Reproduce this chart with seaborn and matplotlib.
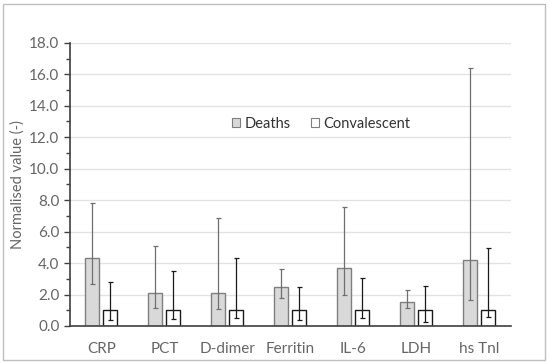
import numpy as np
import pandas as pd
import matplotlib.pyplot as plt
import seaborn as sns
from matplotlib.ticker import MultipleLocator, FormatStrFormatter

# values
markers = ['CRP', 'PCT', 'D-dimer', 'Ferritin', 'IL-6', 'LDH', 'hs Tnl']
deaths = [4.3, 2.1, 2.1, 2.5, 3.7, 1.55, 4.2]
deaths_low = [2.65, 1.15, 1.05, 1.75, 1.95, 1.15, 1.65]
deaths_high = [7.8, 5.1, 6.85, 3.6, 7.55, 2.3, 16.4]
conv = [1.0, 1.0, 1.0, 1.0, 1.0, 1.0, 1.0]
conv_low = [0.4, 0.45, 0.5, 0.35, 0.5, 0.25, 0.6]
conv_high = [2.8, 3.5, 4.3, 2.45, 3.05, 2.55, 4.95]

df = pd.DataFrame({
    'marker': markers * 2,
    'value': deaths + conv,
    'group': ['Deaths'] * len(markers) + ['Convalescent'] * len(markers),
})

sns.set_style('white')
plt.rcParams['font.family'] = ['Lato', 'DejaVu Sans']
text_col = '#666666'

fig = plt.figure(figsize=(5.5, 3.63), dpi=100)
ax = fig.add_axes([0.127, 0.102, 0.802, 0.78])

sns.barplot(
    data=df, x='marker', y='value', hue='group',
    palette={'Deaths': '#d9d9d9', 'Convalescent': 'white'},
    width=0.57, gap=0.22, edgecolor='#7f7f7f', linewidth=1.0,
    ax=ax, legend=True,
)
# conv bars have black edges
for p in ax.patches[len(markers):2 * len(markers)]:
    p.set_edgecolor('#1a1a1a')

x = np.arange(len(markers))
off = 0.1425
d = np.array(deaths)
c = np.array(conv)
ax.errorbar(x - off, d, yerr=[d - np.array(deaths_low), np.array(deaths_high) - d],
            fmt='none', ecolor='#6f6f6f', elinewidth=0.9, capsize=1.8, capthick=0.9)
ax.errorbar(x + off, c, yerr=[c - np.array(conv_low), np.array(conv_high) - c],
            fmt='none', ecolor='#1a1a1a', elinewidth=0.9, capsize=1.8, capthick=0.9)

ax.set_ylim(0, 18)
ax.set_xlim(-0.5, len(markers) - 0.5)
ax.yaxis.set_major_locator(MultipleLocator(2))
ax.yaxis.set_minor_locator(MultipleLocator(1))
ax.yaxis.set_major_formatter(FormatStrFormatter('%.1f'))
ax.grid(axis='y', color='#e3e3e3', linewidth=1.0)
ax.set_axisbelow(True)

for s in ['top', 'right']:
    ax.spines[s].set_visible(False)
ax.spines['left'].set_color('#404040')
ax.spines['bottom'].set_color('#404040')
ax.spines['left'].set_linewidth(1.2)
ax.spines['bottom'].set_linewidth(1.2)

ax.tick_params(axis='y', which='major', left=True, length=4, width=1, color='#404040',
               labelsize=11, labelcolor=text_col, direction='out')
ax.tick_params(axis='y', which='minor', left=True, length=3, width=1, color='#404040',
               direction='out')
ax.tick_params(axis='x', bottom=False, labelsize=11, labelcolor=text_col, pad=8)

ax.set_xlabel('')
ax.set_ylabel('Normalised value (-)', fontsize=10.5, color=text_col, labelpad=3)

leg = ax.legend(loc='center', bbox_to_anchor=(0.57, 0.714), ncol=2, frameon=False,
                fontsize=10.5, handlelength=0.55, handleheight=0.55, handletextpad=0.3,
                columnspacing=1.4)
for t in leg.get_texts():
    t.set_color('#333333')
for h in leg.legend_handles:
    h.set_linewidth(0.8)

# outer frame like the original figure box
fig.patches.append(plt.Rectangle((0.006, 0.008), 0.985, 0.982, transform=fig.transFigure,
                                 fill=False, edgecolor='#bfbfbf', linewidth=1.0))

fig.savefig('out.png', dpi=100)
